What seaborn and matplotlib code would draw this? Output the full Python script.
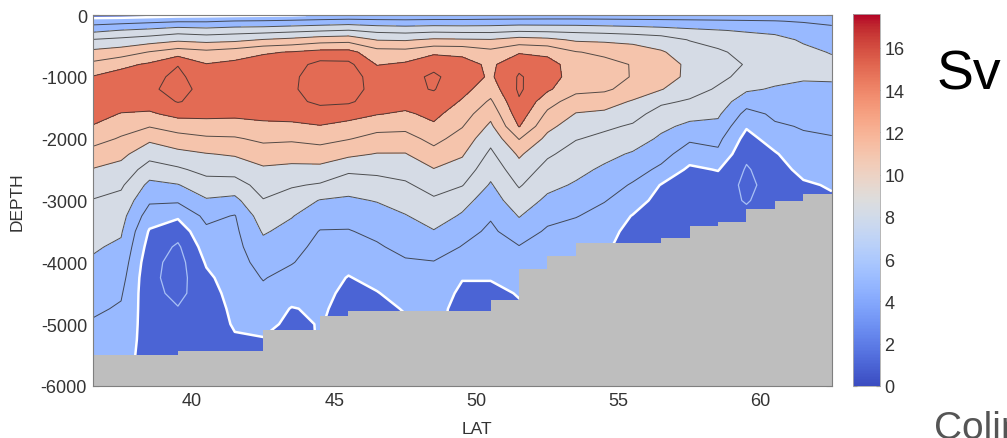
import numpy as np
import matplotlib
matplotlib.use("Agg")
import matplotlib.pyplot as plt
from matplotlib.colors import Normalize
from matplotlib.cm import ScalarMappable
import seaborn as sns

sns.set_style("ticks")
plt.rcParams.update({
    "font.family": ["Liberation Sans", "DejaVu Sans"],
    "axes.unicode_minus": False,
})

# grid of the overturning streamfunction (Sv)
lat = [36.5, 37.5, 38.5, 39.5, 40.5, 41.5, 42.5, 43.5, 44.5, 45.5, 46.5, 47.5, 48.5, 49.5,
       50.5, 51.5, 52.5, 53.5, 54.5, 55.5, 56.5, 57.5, 58.5, 59.5, 60.5, 61.5, 62.5]
depth = [0, -100, -250, -400, -600, -800, -1000, -1200, -1400, -1600, -1800, -2000, -2250,
         -2500, -2750, -3000, -3250, -3500, -3750, -4000, -4250, -4500, -4750, -5000, -5250,
         -5500, -6000]

# one profile per latitude, surface to 6000 m
psi_by_lat = [
    [-1.0, 1.0, 3.5, 6.1, 8.5, 10.5, 12.1, 13.0, 13.3, 12.8, 11.9, 10.8, 9.2, 7.9, 7.0, 5.9, 5.3, 4.6, 4.2, 3.8, 3.3, 2.8, 2.3, 1.8, 1.4, 1.2, 1.0],          # 36.5
    [-1.0, 1.2, 4.1, 6.5, 9.0, 11.5, 12.8, 13.4, 13.0, 11.9, 10.8, 9.8, 8.5, 7.3, 6.3, 5.4, 4.7, 4.2, 3.7, 3.2, 2.7, 2.2, 1.8, 1.4, 1.0, 0.6, 0.5],          # 37.5
    [-0.8, 1.5, 4.5, 7.0, 10.1, 12.3, 13.6, 13.8, 13.0, 11.7, 10.1, 8.4, 6.7, 5.1, 3.5, 2.3, 1.0, -0.2, -0.8, -1.3, -1.5, -1.4, -1.2, -1.0, -0.8, -0.6, -0.5],  # 38.5
    [-0.6, 1.8, 5.1, 7.6, 11.0, 13.95, 14.3, 14.4, 14.1, 12.6, 10.8, 9.3, 7.4, 5.7, 3.9, 2.3, 0.3, -1.2, -2.3, -2.8, -2.8, -2.5, -1.9, -1.4, -1.0, -0.7, -0.5], # 39.5
    [-0.5, 1.8, 4.8, 7.3, 10.5, 12.1, 13.2, 13.6, 13.4, 12.5, 11.2, 9.7, 7.9, 6.6, 5.2, 3.8, 2.5, 1.6, 0.9, 0.2, -0.4, -0.9, -1.2, -1.1, -0.9, -0.6, -0.5],    # 40.5
    [-0.4, 2.1, 5.1, 7.5, 11.0, 12.5, 13.3, 13.5, 13.3, 12.4, 11.2, 9.8, 8.2, 6.8, 5.1, 3.5, 1.9, 1.6, 1.4, 1.2, 1.0, 0.8, 0.5, 0.2, -0.2, -0.4, -0.5],       # 41.5
    [-0.3, 2.2, 5.2, 8.1, 11.8, 12.8, 13.3, 13.5, 13.2, 12.5, 11.6, 10.4, 9.0, 7.7, 6.8, 5.9, 5.1, 4.2, 3.4, 2.7, 2.1, 1.6, 1.1, 0.5, -0.1, -0.3, -0.5],      # 42.5
    [-0.2, 2.4, 5.5, 8.5, 12.1, 13.2, 13.7, 13.8, 13.5, 12.7, 11.6, 10.3, 8.8, 7.5, 6.2, 5.1, 4.1, 3.4, 2.6, 2.1, 1.4, 0.8, -0.1, -0.4, -0.5, -0.5, -0.5],    # 43.5
    [0.2, 2.6, 5.8, 9.1, 12.6, 14.6, 14.8, 14.7, 14.4, 13.1, 11.9, 10.6, 9.1, 7.4, 5.8, 3.9, 2.9, 1.9, 1.5, 1.2, 0.9, 0.6, 0.3, 0.1, 0.1, 0.1, 0.1],          # 44.5
    [0.3, 2.8, 6.1, 9.3, 12.6, 14.5, 14.7, 14.6, 14.3, 12.6, 11.5, 10.1, 8.4, 6.4, 4.8, 3.7, 2.6, 1.9, 1.3, 0.6, -0.1, -0.5, -0.7, -0.7, -0.7, -0.7, -0.7],    # 45.5
    [0.3, 2.6, 5.5, 7.9, 10.8, 11.9, 13.3, 13.5, 13.0, 12.1, 10.6, 9.4, 7.9, 6.5, 5.2, 4.1, 3.2, 2.4, 1.8, 1.2, 0.6, -0.1, -0.4, -0.5, -0.5, -0.5, -0.5],     # 46.5
    [0.3, 2.5, 5.3, 7.8, 10.7, 12.3, 13.4, 13.6, 12.8, 11.7, 10.5, 9.3, 7.9, 6.8, 5.7, 4.8, 3.9, 3.2, 2.5, 1.8, 1.3, 0.8, 0.1, -0.2, -0.2, -0.2, -0.2],       # 47.5
    [0.4, 2.6, 5.5, 8.3, 11.6, 13.5, 14.3, 14.1, 13.3, 12.5, 11.7, 10.6, 9.3, 7.9, 6.8, 5.7, 4.8, 3.9, 3.1, 1.9, 1.5, 1.1, 0.6, 0.4, 0.4, 0.4, 0.4],          # 48.5
    [0.4, 2.6, 5.4, 8.2, 11.5, 12.8, 13.1, 12.6, 11.8, 10.9, 10.1, 9.2, 8.2, 7.2, 6.1, 4.6, 3.8, 2.8, 1.9, 1.0, 0.1, -0.4, -0.6, -0.6, -0.6, -0.6, -0.6],     # 49.5
    [0.5, 2.7, 5.4, 8.1, 10.6, 11.6, 11.7, 10.9, 9.7, 8.6, 7.6, 6.6, 5.6, 4.7, 3.8, 3.1, 2.2, 1.6, 1.1, 0.6, 0.1, -0.4, -0.6, -0.6, -0.6, -0.6, -0.6],        # 50.5
    [0.5, 2.8, 5.7, 8.8, 11.8, 13.5, 14.2, 14.3, 13.8, 13.1, 12.1, 10.1, 8.3, 7.2, 6.2, 5.1, 4.1, 3.1, 1.9, 1.2, 0.7, 0.1, -0.2, -0.3, -0.3, -0.3, -0.3],     # 51.5
    [0.6, 2.8, 5.6, 8.5, 11.5, 12.8, 12.9, 12.3, 10.8, 9.6, 8.5, 7.5, 6.3, 5.3, 4.5, 3.6, 2.6, 1.7, 1.0, 0.3, 0.2, 0.2, 0.2, 0.2, 0.2, 0.2, 0.2],            # 52.5
    [0.6, 2.8, 5.5, 7.7, 10.1, 11.0, 11.1, 10.6, 9.0, 7.9, 7.0, 6.1, 5.2, 4.5, 3.8, 2.8, 2.1, 1.2, 0.6, 0.3, 0.2, 0.2, 0.2, 0.2, 0.2, 0.2, 0.2],             # 53.5
    [0.6, 2.7, 5.3, 7.6, 9.6, 10.6, 10.7, 10.3, 8.9, 7.6, 6.3, 5.6, 4.5, 3.7, 2.9, 2.1, 1.3, 0.7, 0.3, 0.3, 0.2, 0.2, 0.2, 0.2, 0.2, 0.2, 0.2],              # 54.5
    [0.6, 2.6, 5.1, 7.3, 9.2, 9.9, 9.9, 9.3, 7.8, 6.6, 5.8, 4.9, 3.8, 2.8, 1.8, 1.0, -0.1, -0.6, -0.8, -0.8, -0.8, -0.8, -0.8, -0.8, -0.8, -0.8, -0.8],      # 55.5
    [0.6, 2.5, 4.8, 6.9, 8.2, 8.9, 9.0, 8.1, 6.3, 5.3, 4.4, 3.7, 2.7, 1.6, -0.1, -0.8, -1.0, -1.0, -1.0, -1.0, -1.0, -1.0, -1.0, -1.0, -1.0, -1.0, -1.0],    # 56.5
    [0.6, 2.4, 4.4, 5.9, 7.0, 7.6, 7.5, 6.7, 5.8, 4.6, 3.6, 2.3, 1.0, -0.4, -1.0, -1.2, -1.3, -1.3, -1.3, -1.3, -1.3, -1.3, -1.3, -1.3, -1.3, -1.3, -1.3],   # 57.5
    [0.6, 2.3, 4.1, 5.5, 6.2, 6.6, 6.4, 5.8, 5.1, 4.3, 3.5, 2.5, 1.6, 0.1, -1.0, -1.5, -1.7, -1.7, -1.7, -1.7, -1.7, -1.7, -1.7, -1.7, -1.7, -1.7, -1.7],   # 58.5
    [0.6, 2.2, 3.8, 4.9, 5.6, 5.9, 5.5, 4.3, 2.8, 1.4, 0.2, -0.7, -1.6, -2.2, -2.4, -2.1, -1.7, -1.6, -1.6, -1.6, -1.6, -1.6, -1.6, -1.6, -1.6, -1.6, -1.6], # 59.5
    [0.5, 2.1, 3.6, 4.5, 5.1, 5.2, 4.6, 3.8, 3.1, 2.3, 1.8, 0.9, -0.2, -0.9, -1.3, -1.4, -1.4, -1.4, -1.4, -1.4, -1.4, -1.4, -1.4, -1.4, -1.4, -1.4, -1.4],  # 60.5
    [0.5, 1.8, 3.3, 3.8, 4.4, 4.7, 4.2, 3.6, 3.1, 2.5, 2.1, 1.8, 1.3, 0.6, -0.3, -0.8, -0.8, -0.8, -0.8, -0.8, -0.8, -0.8, -0.8, -0.8, -0.8, -0.8, -0.8],    # 61.5
    [0.5, 1.5, 2.6, 3.4, 3.9, 4.4, 4.2, 3.7, 3.2, 2.7, 2.3, 1.9, 1.5, 1.0, 0.2, -0.3, -0.3, -0.3, -0.3, -0.3, -0.3, -0.3, -0.3, -0.3, -0.3, -0.3, -0.3],     # 62.5
]

# sea floor, one value per 1-degree cell between the edges
floor_edges = [36.5, 37.5, 38.5, 39.5, 40.5, 41.5, 42.5, 43.5, 44.5, 45.5, 46.5, 47.5, 48.5, 49.5,
               50.5, 51.5, 52.5, 53.5, 54.5, 55.5, 56.5, 57.5, 58.5, 59.5, 60.5, 61.5, 62.5]
floor_depth = [-5500, -5500, -5500, -5440, -5440, -5440, -5100, -5100, -4870, -4780, -4780, -4780,
               -4780, -4780, -4610, -4100, -3900, -3690, -3690, -3690, -3600, -3420, -3350, -3130,
               -3000, -2890]

fill_levels = [-10, 0, 4, 8, 12, 20]
fill_tones = [1.0, 5.0, 8.3, 11.0, 15.0]     # colour bar value used for each band
line_levels = [2, 4, 6, 8, 10, 12, 14]
cbar_max = 17.6

cmap = sns.color_palette("coolwarm", as_cmap=True)
norm = Normalize(vmin=0, vmax=cbar_max)

psi = np.array(psi_by_lat).T

fig = plt.figure(figsize=(10.07, 4.39), dpi=100)
ax = fig.add_axes([0.092, 0.1185, 0.734, 0.845])
cax = fig.add_axes([0.847, 0.1185, 0.027, 0.847])

ax.contourf(lat, depth, psi, levels=fill_levels,
            colors=[cmap(norm(v)) for v in fill_tones])
ax.contour(lat, depth, psi, levels=line_levels, colors="#2b2b2b",
           linewidths=0.7, alpha=0.8)
ax.contour(lat, depth, psi, levels=[-2], colors="#a9c1f5", linewidths=0.9,
           linestyles="solid")
ax.contour(lat, depth, psi, levels=[0], colors="white", linewidths=1.8,
           linestyles="solid")

ax.fill_between(floor_edges, floor_depth + [floor_depth[-1]], -6000, step="post",
                color="#bebebe", lw=0, zorder=3)

ax.set_xlim(36.5, 62.5)
ax.set_ylim(-6000, 0)
ax.set_xticks([40, 45, 50, 55, 60])
ax.set_yticks([0, -1000, -2000, -3000, -4000, -5000, -6000])
ax.tick_params(direction="in", length=4, top=True, right=True, color="#7f7f7f",
               labelsize=13, labelcolor="#333333", pad=4)
for sp in ax.spines.values():
    sp.set_color("#7f7f7f")
    sp.set_linewidth(0.8)
    sp.set_zorder(5)
ax.set_xlabel("LAT", fontsize=12.5, color="#333333")
ax.set_ylabel("DEPTH", fontsize=12.5, color="#333333")
ax.xaxis.set_label_coords(0.52, -0.095)
ax.yaxis.set_label_coords(-0.0916, 0.5)

sm = ScalarMappable(norm=norm, cmap=cmap)
cb = fig.colorbar(sm, cax=cax, ticks=list(range(0, 17, 2)))
cb.outline.set_edgecolor("#aaaaaa")
cb.outline.set_linewidth(0.6)
cax.tick_params(direction="in", length=3, left=True, right=True, color="#555555",
                labelsize=13, labelcolor="#333333", pad=3)

fig.text(0.9305, 0.795, "Sv", fontsize=40, color="black", ha="left", va="baseline")
fig.text(0.928, 0.0, "Colin", fontsize=28, color="#555555", ha="left", va="baseline")

fig.savefig("out.png", dpi=100)
